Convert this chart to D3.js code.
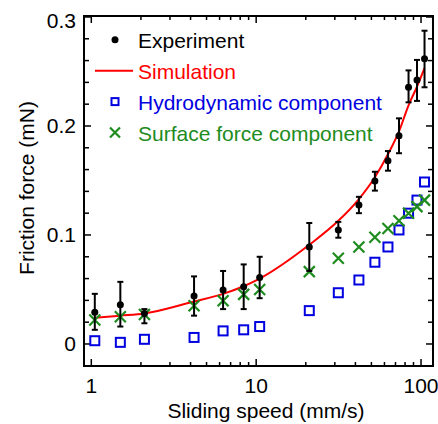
<!DOCTYPE html>
<html>
<head>
<meta charset="utf-8">
<script src="https://cdn.jsdelivr.net/npm/d3@7"></script>
<style>
  body { margin: 0; background: #fff; }
  svg text { font-family: "Liberation Sans", Arial, sans-serif; }
</style>
</head>
<body>
<svg width="438" height="424"></svg>
<script>
"use strict";
// sliding speed (mm/s)
var speeds = [1.05, 1.5, 2.1, 4.2, 6.3, 8.4, 10.5, 21, 31.5, 42, 52.5, 63, 73.5, 84, 94.5, 105];
// experiment mean and error bar ends (mN)
var experiment = [0.029, 0.036, 0.028, 0.044, 0.0495, 0.0526, 0.061, 0.089, 0.1046, 0.1275, 0.1495, 0.168, 0.191, 0.2355, 0.2422, 0.2617];
var expHigh = [0.046, 0.057, 0.032, 0.062, 0.067, 0.073, 0.080, 0.111, 0.112, 0.135, 0.158, 0.177, 0.207, 0.251, 0.2606, 0.2874];
var expLow = [0.013, 0.016, 0.019, 0.026, 0.032, 0.032, 0.042, 0.067, 0.0975, 0.120, 0.1407, 0.159, 0.175, 0.2217, 0.223, 0.2355];
var simulation = [0.024, 0.026, 0.028, 0.039, 0.046, 0.053, 0.060, 0.091, 0.113, 0.133, 0.153, 0.174, 0.195, 0.219, 0.236, 0.253];
var hydrodynamic = [0.003, 0.0015, 0.0043, 0.006, 0.012, 0.013, 0.016, 0.0306, 0.047, 0.0587, 0.075, 0.089, 0.1046, 0.120, 0.132, 0.1486];
var surface = [0.022, 0.025, 0.027, 0.035, 0.0397, 0.0455, 0.050, 0.0664, 0.0786, 0.089, 0.0979, 0.106, 0.113, 0.120, 0.126, 0.132];
var xTicks = [1, 10, 100];
var yTicks = [0, 0.1, 0.2, 0.3];
var yTickLabels = ["0", "0.1", "0.2", "0.3"];
var legendNames = ["Experiment", "Simulation", "Hydrodynamic component", "Surface force component"];

var svg = d3.select('svg');
var plotLeft = 84, plotRight = 433, plotTop = 16, plotBottom = 366;
var blue = '#0000e0', green = '#1e8c1e', red = '#ff0000';
var fontSize = 21;

var x = d3.scaleLog().domain([0.903, 118.2]).range([plotLeft, plotRight]);
var y = d3.scaleLinear().domain([-0.0202, 0.3009]).range([plotBottom, plotTop]);

// frame
svg.append('rect')
    .attr('x', plotLeft).attr('y', plotTop)
    .attr('width', plotRight - plotLeft).attr('height', plotBottom - plotTop)
    .attr('fill', 'none').attr('stroke', '#000').attr('stroke-width', 2);

// log ticks, inward on bottom and top
var xMinor = [];
[1, 10].forEach(function (d) {
    for (var k = 2; k <= 9; k++) xMinor.push(d * k);
});
var tickG = svg.append('g').attr('stroke', '#000').attr('stroke-width', 1.5);
xTicks.concat(xMinor).forEach(function (v) {
    var len = xTicks.indexOf(v) >= 0 ? 7 : 4;
    tickG.append('line').attr('x1', x(v)).attr('x2', x(v)).attr('y1', plotBottom).attr('y2', plotBottom - len);
    tickG.append('line').attr('x1', x(v)).attr('x2', x(v)).attr('y1', plotTop).attr('y2', plotTop + len);
});
// y ticks every 0.02
d3.range(-0.02, 0.301, 0.02).forEach(function (v) {
    var major = Math.abs(v * 10 - Math.round(v * 10)) < 1e-6;
    var len = major ? 7 : 5;
    tickG.append('line').attr('x1', plotLeft).attr('x2', plotLeft + len).attr('y1', y(v)).attr('y2', y(v));
    tickG.append('line').attr('x1', plotRight).attr('x2', plotRight - len).attr('y1', y(v)).attr('y2', y(v));
});

// tick labels
svg.append('g').selectAll('text').data(xTicks).join('text')
    .attr('x', function (d) { return x(d); })
    .attr('y', 393)
    .attr('text-anchor', 'middle')
    .attr('font-size', fontSize)
    .text(function (d) { return d; });
svg.append('g').selectAll('text').data(yTicks).join('text')
    .attr('x', 76)
    .attr('y', function (d) { return Math.max(y(d) + 7.5, 27.5); })
    .attr('text-anchor', 'end')
    .attr('font-size', fontSize)
    .text(function (d, i) { return yTickLabels[i]; });

// axis titles
svg.append('text')
    .attr('x', 266).attr('y', 418)
    .attr('text-anchor', 'middle').attr('font-size', fontSize)
    .text('Sliding speed (mm/s)');
svg.append('text')
    .attr('transform', 'translate(34,188) rotate(-90)')
    .attr('text-anchor', 'middle').attr('font-size', fontSize)
    .text('Friction force (mN)');

// simulation line
var line = d3.line()
    .x(function (d, i) { return x(speeds[i]); })
    .y(function (d) { return y(d); })
    .curve(d3.curveMonotoneX);
svg.append('path')
    .attr('d', line(simulation))
    .attr('fill', 'none').attr('stroke', red).attr('stroke-width', 2);

// hydrodynamic squares
svg.append('g').selectAll('rect').data(hydrodynamic).join('rect')
    .attr('x', function (d, i) { return x(speeds[i]) - 4.5; })
    .attr('y', function (d) { return y(d) - 4.5; })
    .attr('width', 9).attr('height', 9)
    .attr('fill', 'none').attr('stroke', blue).attr('stroke-width', 2);

// surface force crosses
var cross = function (cx, cy, r) {
    return 'M' + (cx - r) + ',' + (cy - r) + 'L' + (cx + r) + ',' + (cy + r) +
        'M' + (cx - r) + ',' + (cy + r) + 'L' + (cx + r) + ',' + (cy - r);
};
svg.append('g').selectAll('path').data(surface).join('path')
    .attr('d', function (d, i) { return cross(x(speeds[i]), y(d), 5.5); })
    .attr('stroke', green).attr('stroke-width', 2.2).attr('fill', 'none');

// experiment with error bars
var expG = svg.append('g');
experiment.forEach(function (d, i) {
    var cx = x(speeds[i]);
    expG.append('line').attr('x1', cx).attr('x2', cx).attr('y1', y(expLow[i])).attr('y2', y(expHigh[i]))
        .attr('stroke', '#000').attr('stroke-width', 2);
    [expLow[i], expHigh[i]].forEach(function (e) {
        expG.append('line').attr('x1', cx - 3).attr('x2', cx + 3).attr('y1', y(e)).attr('y2', y(e))
            .attr('stroke', '#000').attr('stroke-width', 2);
    });
    expG.append('circle').attr('cx', cx).attr('cy', y(d)).attr('r', 3.5).attr('fill', '#000');
});

// legend
var legendColors = ['#000', red, blue, green];
var legendG = svg.append('g');
legendNames.forEach(function (name, i) {
    var base = 48.3 + i * 30.9;
    var ly = base - 8.5;
    legendG.append('text')
        .attr('x', 138).attr('y', base)
        .attr('font-size', fontSize).attr('fill', legendColors[i])
        .text(name);
    if (i === 0) {
        legendG.append('circle').attr('cx', 115).attr('cy', ly).attr('r', 3.5).attr('fill', '#000');
    } else if (i === 1) {
        legendG.append('line').attr('x1', 95).attr('x2', 133).attr('y1', ly).attr('y2', ly)
            .attr('stroke', red).attr('stroke-width', 2);
    } else if (i === 2) {
        legendG.append('rect').attr('x', 111.5).attr('y', ly - 3.5).attr('width', 7).attr('height', 7)
            .attr('fill', 'none').attr('stroke', blue).attr('stroke-width', 2);
    } else {
        legendG.append('path').attr('d', cross(115, ly, 5))
            .attr('stroke', green).attr('stroke-width', 2.2).attr('fill', 'none');
    }
});
</script>
</body>
</html>
